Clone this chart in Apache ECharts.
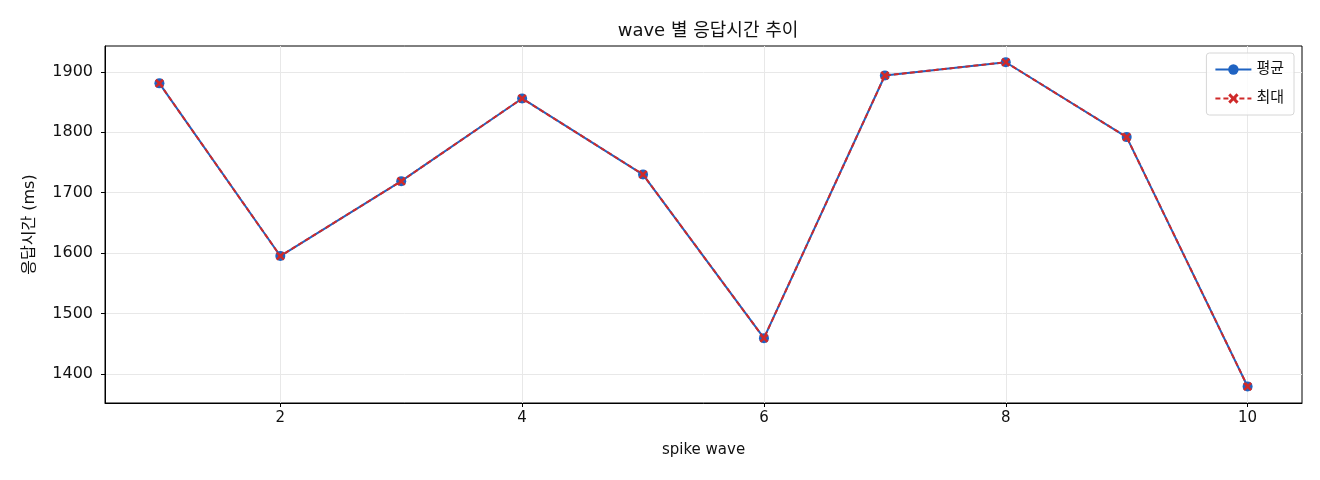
<!DOCTYPE html>
<html>
<head>
<meta charset="utf-8">
<script src="https://cdn.jsdelivr.net/npm/echarts@6/dist/echarts.min.js"></script>
<style>
  html, body { margin: 0; padding: 0; background: #fff; }
  #chart { width: 1320px; height: 480px; }
</style>
</head>
<body>
<div id="chart"></div>
<script>
// spike wave index and response times (ms)
const waves = [1, 2, 3, 4, 5, 6, 7, 8, 9, 10];
const avgMs = [1881, 1595, 1719, 1856, 1730, 1459, 1894, 1916, 1792, 1379];
const maxMs = [1881, 1595, 1719, 1856, 1730, 1459, 1894, 1916, 1792, 1379];
const xTicks = [2, 4, 6, 8, 10];
const yTicks = [1400, 1500, 1600, 1700, 1800, 1900];

const FONT = '"DejaVu Sans", "Noto Sans CJK KR", sans-serif';
const BLUE = '#1f63c2';
const RED = '#cf2a2a';
const CROSS = 'path://M2,0L5,3L8,0L10,2L7,5L10,8L8,10L5,7L2,10L0,8L3,5L0,2Z';

const chart = echarts.init(document.getElementById('chart'));

chart.setOption({
  animation: false,
  textStyle: { fontFamily: FONT },
  title: {
    text: 'wave 별 응답시간 추이',
    left: 703,
    top: 17,
    textAlign: 'center',
    textStyle: { fontFamily: FONT, fontSize: 18, fontWeight: 'normal', color: '#111' }
  },
  legend: {
    right: 26,
    top: 53,
    orient: 'vertical',
    itemWidth: 36,
    itemHeight: 13,
    itemGap: 14,
    padding: [9, 10, 9, 8],
    backgroundColor: 'rgba(255,255,255,0.8)',
    borderColor: '#d6d6d6',
    borderWidth: 1,
    borderRadius: 3,
    textStyle: { fontFamily: FONT, fontSize: 15, color: '#111' },
    data: ['평균', '최대']
  },
  grid: {
    left: 105,
    right: 18,
    top: 46,
    bottom: 77,
    show: true,
    borderColor: '#000',
    borderWidth: 1,
    containLabel: false
  },
  xAxis: {
    type: 'value',
    min: 0.55,
    max: 10.45,
    name: 'spike wave',
    nameLocation: 'middle',
    nameGap: 40,
    nameTextStyle: { fontFamily: FONT, fontSize: 15, color: '#111' },
    axisLine: { show: true, onZero: false, lineStyle: { color: '#000', width: 1 } },
    axisTick: { show: true, length: 4, customValues: xTicks, lineStyle: { color: '#000' } },
    axisLabel: { customValues: xTicks, fontSize: 15, color: '#111', margin: 8, fontFamily: FONT },
    splitLine: { show: true, customValues: xTicks, lineStyle: { color: '#e8e8e8', width: 1 } }
  },
  yAxis: {
    type: 'value',
    min: 1351.6,
    max: 1942.9,
    name: '응답시간 (ms)',
    nameLocation: 'middle',
    nameGap: 67,
    nameTextStyle: { fontFamily: FONT, fontSize: 16, color: '#111' },
    axisLine: { show: true, lineStyle: { color: '#000', width: 1 } },
    axisTick: { show: true, length: 4, customValues: yTicks, lineStyle: { color: '#000' } },
    axisLabel: {
      customValues: yTicks,
      fontSize: 16,
      color: '#111',
      margin: 12,
      fontFamily: FONT,
      formatter: (v) => String(v)
    },
    splitLine: { show: true, customValues: yTicks, lineStyle: { color: '#e8e8e8', width: 1 } }
  },
  series: [
    {
      name: '평균',
      type: 'line',
      data: waves.map((w, i) => [w, avgMs[i]]),
      symbol: 'circle',
      symbolSize: 10,
      lineStyle: { color: BLUE, width: 2 },
      itemStyle: { color: BLUE },
      z: 2
    },
    {
      name: '최대',
      type: 'line',
      data: waves.map((w, i) => [w, maxMs[i]]),
      symbol: CROSS,
      symbolSize: 9,
      lineStyle: { color: RED, width: 2, type: [5, 3] },
      itemStyle: { color: RED },
      z: 3
    }
  ]
});
</script>
</body>
</html>
